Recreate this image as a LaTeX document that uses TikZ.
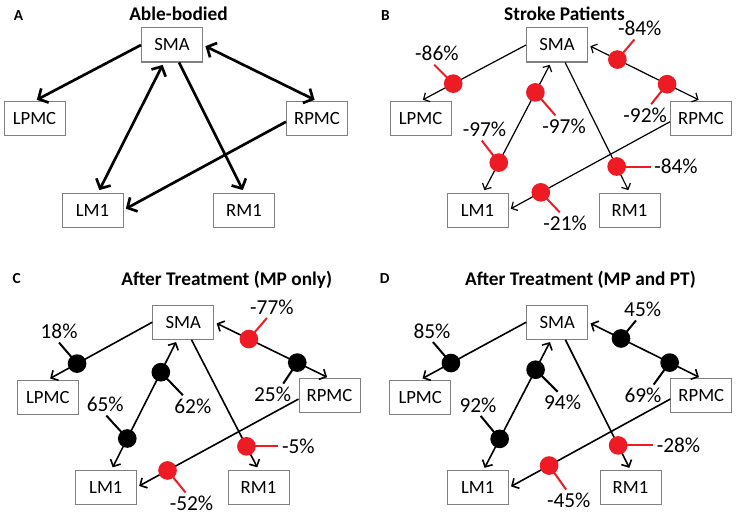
\documentclass[tikz,border=0pt]{standalone}
\usepackage{fontspec}
\setmainfont{Carlito}
\usetikzlibrary{arrows.meta}
\definecolor{dotred}{RGB}{237,28,36}
\definecolor{boxgray}{RGB}{128,128,128}

\begin{document}
\begin{tikzpicture}[x=0.75pt,y=0.75pt,yscale=-1,xscale=1,
  region/.style={draw=boxgray,line width=0.75pt,fill=white,minimum width=45.75pt,minimum height=25.5pt,inner sep=0pt,font=\fontsize{14}{16}\selectfont},
  paneltitle/.style={anchor=base,inner sep=0pt,font=\fontsize{14.5}{17}\selectfont\bfseries},
  panelletter/.style={anchor=base,inner sep=0pt,font=\fontsize{11.5}{14}\selectfont\bfseries},
  linkA/.style={line width=2pt,>={Straight Barb[length=5.5pt,width=12pt]},shorten >=2pt},
  linkB/.style={line width=0.9pt,>={Straight Barb[length=3.5pt,width=7.5pt]},shorten >=2pt},
  linkC/.style={line width=1.2pt,>={Straight Barb[length=4pt,width=8.5pt]},shorten >=2pt},
  twoway/.style={<->,shorten <=2pt},
  dotR/.style={circle,fill=dotred,inner sep=0pt,minimum size=14pt},
  dotK/.style={circle,fill=black,inner sep=0pt,minimum size=14pt},
  stickR/.style={draw=dotred,line width=1.5pt},
  stickK/.style={draw=black,line width=1.5pt},
  pct/.style={inner sep=2pt,font=\fontsize{16}{19}\selectfont}]
\useasboundingbox (0,0) rectangle (737,517);

%%% Panel A
% Text Node
\node[panelletter] at (18.5,20.5) {A};
\node[paneltitle] at (178.5,20.5) {Able-bodied};
%Shape: Rectangle
\node[region] (smaA) at (172,45) {SMA};
\node[region] (lpmcA) at (34.5,118.5) {LPMC};
\node[region] (rpmcA) at (317,118.5) {RPMC};
\node[region] (lmA) at (92.5,210) {LM1};
\node[region] (rmA) at (244,210) {RM1};
%Straight Lines
\draw[linkA,->] (smaA.west) -- (lpmcA.north);
\draw[linkA,twoway] (lmA.72) -- (smaA.245);
\draw[linkA,->] (smaA.292) -- (rmA.north);
\draw[linkA,twoway] (smaA.east) -- (rpmcA.north);
\draw[linkA,->] (rpmcA.186) -- (lmA.east);

%%% Panel B
% Text Node
\node[panelletter] at (385.3,20.5) {B};
\node[paneltitle] at (564.5,20.5) {Stroke Patients};
%Shape: Rectangle
\node[region] (smaB) at (557,45) {SMA};
\node[region] (lpmcB) at (420.5,118.5) {LPMC};
\node[region] (rpmcB) at (701,118.5) {RPMC};
\node[region] (lmB) at (477.5,210) {LM1};
\node[region] (rmB) at (629.5,210) {RM1};
%Straight Lines
\draw[linkB,->] (smaB.west) -- node[dotR,pos=0.69] (b1) {} (lpmcB.north);
\draw[linkB,twoway] (lmB.72) -- node[dotR,pos=0.23] (b5) {} node[dotR,pos=0.77] (b4) {} (smaB.251);
\draw[linkB,->] (smaB.295) -- node[dotR,pos=0.8] (b6) {} (rmB.north);
\draw[linkB,twoway] (smaB.east) -- node[dotR,pos=0.26] (b2) {} node[dotR,pos=0.7] (b3) {} (rpmcB.north);
\draw[linkB,->] (rpmcB.186) -- node[dotR,pos=0.8] (b7) {} (lmB.east);
% Markers
\draw[stickR] (b1.center) -- ++(-19,-19) node[pct,anchor=south,xshift=2pt] {-86\%};
\draw[stickR] (b2.center) -- ++(17,-20) node[pct,anchor=south,xshift=4pt] {-84\%};
\draw[stickR] (b3.center) -- ++(-16,20) node[pct,anchor=north,xshift=-4.5pt] {-92\%};
\draw[stickR] (b4.center) -- ++(20,23) node[pct,anchor=north,xshift=6.5pt] {-97\%};
\draw[stickR] (b5.center) -- ++(-17,-22) node[pct,anchor=south,xshift=2pt] {-97\%};
\draw[stickR] (b6.center) -- ++(34,0) node[pct,anchor=west] {-84\%};
\draw[stickR] (b7.center) -- ++(19,20) node[pct,anchor=north,xshift=4pt] {-21\%};

%%% Panel C
% Text Node
\node[panelletter] at (16.7,283.5) {C};
\node[paneltitle] at (226.7,285.3) {After Treatment (MP only)};
%Shape: Rectangle
\node[region] (smaC) at (183.3,322.2) {SMA};
\node[region] (lpmcC) at (47.8,397.2) {LPMC};
\node[region] (rpmcC) at (329.5,395.8) {RPMC};
\node[region] (lmC) at (105.8,487.2) {LM1};
\node[region] (rmC) at (258.5,487.2) {RM1};
%Straight Lines
\draw[linkC,->] (smaC.west) -- node[dotK,pos=0.72] (c1) {} (lpmcC.north);
\draw[linkC,twoway] (lmC.72) -- node[dotK,pos=0.24] (c5) {} node[dotK,pos=0.75] (c4) {} (smaC.251);
\draw[linkC,->] (smaC.295) -- node[dotR,pos=0.82] (c6) {} (rmC.north);
\draw[linkC,twoway] (smaC.east) -- node[dotR,pos=0.3] (c2) {} node[dotK,pos=0.72] (c3) {} (rpmcC.north);
\draw[linkC,->] (rpmcC.186) -- node[dotR,pos=0.81] (c7) {} (lmC.east);
% Markers
\draw[stickK] (c1.center) -- ++(-18,-21) node[pct,anchor=south] {18\%};
\draw[stickR] (c2.center) -- ++(18,-21) node[pct,anchor=south,xshift=3.75pt] {-77\%};
\draw[stickK] (c3.center) -- ++(-14,21) node[pct,anchor=north,xshift=-8pt] {25\%};
\draw[stickK] (c4.center) -- ++(22,23) node[pct,anchor=north,xshift=7.5pt] {62\%};
\draw[stickK] (c5.center) -- ++(-21,-23) node[pct,anchor=south,xshift=-0.75pt] {65\%};
\draw[stickR] (c6.center) -- ++(32,0) node[pct,anchor=west] {-5\%};
\draw[stickR] (c7.center) -- ++(18,22) node[pct,anchor=north,xshift=4.5pt] {-52\%};

%%% Panel D
% Text Node
\node[panelletter] at (384.7,283.5) {D};
\node[paneltitle] at (580.5,285.3) {After Treatment (MP and PT)};
%Shape: Rectangle
\node[region] (smaD) at (557.2,322.2) {SMA};
\node[region] (lpmcD) at (420.2,397.2) {LPMC};
\node[region] (rpmcD) at (701.3,395.8) {RPMC};
\node[region] (lmD) at (477.7,487.7) {LM1};
\node[region] (rmD) at (630.5,487.7) {RM1};
%Straight Lines
\draw[linkC,->] (smaD.west) -- node[dotK,pos=0.71] (d1) {} (lpmcD.north);
\draw[linkC,twoway] (lmD.72) -- node[dotK,pos=0.24] (d5) {} node[dotK,pos=0.77] (d4) {} (smaD.251);
\draw[linkC,->] (smaD.295) -- node[dotR,pos=0.81] (d6) {} (rmD.north);
\draw[linkC,twoway] (smaD.east) -- node[dotK,pos=0.29] (d2) {} node[dotK,pos=0.72] (d3) {} (rpmcD.north);
\draw[linkC,->] (rpmcD.186) -- node[dotR,pos=0.75] (d7) {} (lmD.east);
% Markers
\draw[stickK] (d1.center) -- ++(-18,-21) node[pct,anchor=south,xshift=-0.75pt] {85\%};
\draw[stickK] (d2.center) -- ++(15,-18) node[pct,anchor=south,xshift=5pt] {45\%};
\draw[stickK] (d3.center) -- ++(-16,22) node[pct,anchor=north,xshift=-8pt] {69\%};
\draw[stickK] (d4.center) -- ++(22,22) node[pct,anchor=north,xshift=3.75pt] {94\%};
\draw[stickK] (d5.center) -- ++(-19,-23) node[pct,anchor=south,xshift=-2pt] {92\%};
\draw[stickR] (d6.center) -- ++(35,0) node[pct,anchor=west] {-28\%};
\draw[stickR] (d7.center) -- ++(17,24) node[pct,anchor=north,xshift=2pt] {-45\%};

\end{tikzpicture}
\end{document}
